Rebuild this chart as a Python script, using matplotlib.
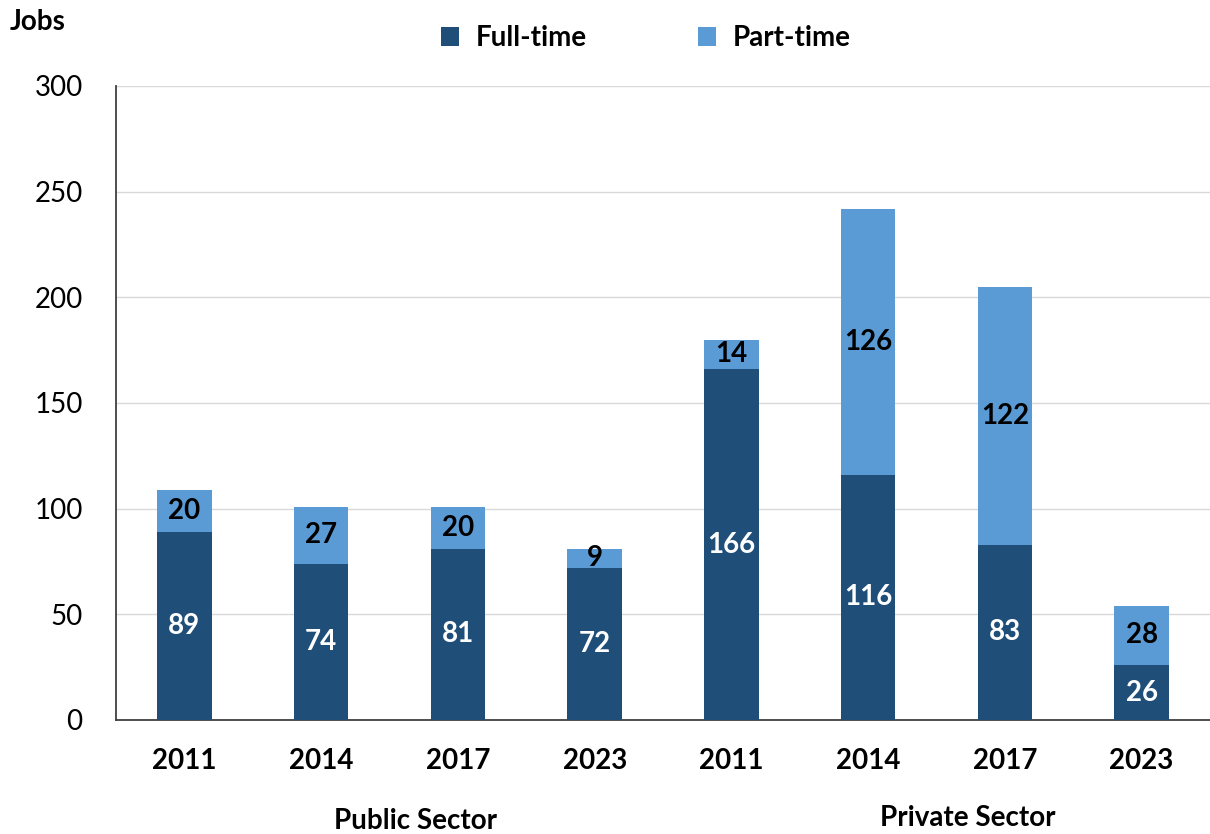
import matplotlib
matplotlib.use("Agg")
import matplotlib.pyplot as plt
import numpy as np

plt.rcParams['font.family'] = ['Lato', 'DejaVu Sans']

years = ["2011", "2014", "2017", "2023", "2011", "2014", "2017", "2023"]
full_time = [89, 74, 81, 72, 166, 116, 83, 26]
part_time = [20, 27, 20, 9, 14, 126, 122, 28]
sectors = ["Public Sector", "Private Sector"]
yticks = [0, 50, 100, 150, 200, 250, 300]

dark = "#1F4E79"
light = "#5B9BD5"

fig = plt.figure(figsize=(12.1, 8.34), dpi=100)
ax = fig.add_axes([116/1210, 114/834, 1094/1210, 634/834])

x = np.arange(len(years))
w = 0.4
b1 = ax.bar(x, full_time, w, color=dark, label="Full-time", zorder=3)
b2 = ax.bar(x, part_time, w, bottom=full_time, color=light, label="Part-time", zorder=3)

for xi, f, p in zip(x, full_time, part_time):
    ax.text(xi, f/2, str(f), ha='center', va='center', color='white',
            fontsize=20, fontweight='bold', zorder=4)
    ax.text(xi, f + p/2, str(p), ha='center', va='center', color='black',
            fontsize=20, fontweight='bold', zorder=4)

ax.set_xlim(-0.5, 7.5)
ax.set_ylim(0, 300)
ax.set_yticks(yticks)
ax.set_yticklabels([str(t) for t in yticks], fontsize=20)
ax.set_xticks(x)
ax.set_xticklabels(years, fontsize=20, fontweight='bold')
ax.tick_params(axis='both', length=0)
ax.tick_params(axis='x', pad=20)
ax.tick_params(axis='y', pad=24)
ax.grid(axis='y', color='#D9D9D9', linewidth=1, zorder=0)
ax.set_axisbelow(True)
for s in ['top', 'right']:
    ax.spines[s].set_visible(False)
ax.spines['left'].set_color('#404040')
ax.spines['bottom'].set_color('#404040')
ax.spines['left'].set_linewidth(1.3)
ax.spines['bottom'].set_linewidth(1.3)

fig.text(10/1210, 1 - 22/834, "Jobs", fontsize=20, fontweight='bold', ha='left', va='center')
fig.text(415/1210, 1 - 821/834, sectors[0], fontsize=20, fontweight='bold', ha='center', va='center')
fig.text(968/1210, 1 - 818/834, sectors[1], fontsize=20, fontweight='bold', ha='center', va='center')

leg = fig.legend(handles=[b1, b2], loc='center', bbox_to_anchor=(646/1210, 1 - 38/834),
                 ncol=2, frameon=False, fontsize=20, handlelength=0.65, handleheight=0.65,
                 columnspacing=4.0, handletextpad=0.6)
for t in leg.get_texts():
    t.set_fontweight('bold')

fig.savefig("out.png", dpi=100)
